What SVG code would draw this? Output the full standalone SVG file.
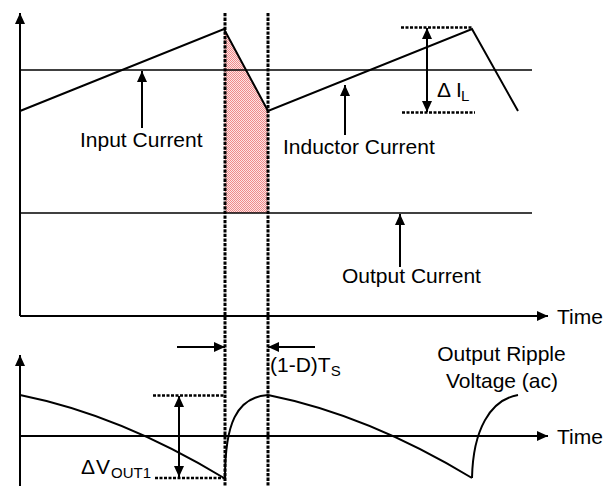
<svg xmlns="http://www.w3.org/2000/svg" width="604" height="486" viewBox="0 0 604 486">
  <style>
    .ln { fill: none; stroke: #000; stroke-width: 2; }
    .thin { fill: none; stroke: #000; stroke-width: 1.7; }
    .arr { fill: none; stroke: #000; stroke-width: 2; marker-end: url(#ah); }
    .darr { fill: none; stroke: #000; stroke-width: 2; marker-start: url(#ah); marker-end: url(#ah); }
    .vdash { fill: none; stroke: #000; stroke-width: 3; stroke-dasharray: 3.3 1.3; }
    .hdash { fill: none; stroke: #000; stroke-width: 2.5; stroke-dasharray: 3 1.5; }
    .t { font-family: "Liberation Sans", Arial, sans-serif; font-size: 21px; fill: #000; }
    .sub { font-size: 15px; }
  </style>
  <defs>
    <marker id="ah" viewBox="0 0 11 10" refX="11" refY="5" markerWidth="11" markerHeight="10" markerUnits="userSpaceOnUse" orient="auto-start-reverse">
      <path d="M0,0 L11,5 L0,10 z" fill="#000"/>
    </marker>
    <pattern id="hatch" width="2" height="2" patternUnits="userSpaceOnUse">
      <rect width="2" height="2" fill="#fde4e4"/>
      <rect width="1" height="1" fill="#ef8a8a"/>
      <rect x="1" y="1" width="1" height="1" fill="#ef8a8a"/>
    </pattern>
  </defs>
  <rect width="604" height="486" fill="#fff"/>

  <g id="shaded-region">
    <polygon points="224,29 268,111 268,213 225,213" fill="url(#hatch)"/>
  </g>

  <g id="current-plot">
    <path class="thin" d="M20,70 H532"/>
    <path class="thin" d="M20,213 H532"/>
    <polyline class="ln" points="20,111 224,29 268,111 472,29 518,111"/>
  </g>

  <g id="voltage-plot">
    <path class="ln" d="M20,395 Q120,415 224,478"/>
    <path class="ln" d="M225,478 C225,425 236,397 268,395"/>
    <path class="ln" d="M268,395 Q368,415 472,478"/>
    <path class="ln" d="M472,478 C473,430 490,400 518,395"/>
  </g>

  <g id="connectors">
    <path class="arr" d="M20,316 V13"/>
    <path class="arr" d="M20,316 H548"/>
    <path class="arr" d="M20,486 V355"/>
    <path class="arr" d="M20,436 H548"/>
    <path class="vdash" d="M225,13 V486"/>
    <path class="vdash" d="M268,13 V486"/>
    <path class="arr" d="M142,128 V71"/>
    <path class="arr" d="M345,135 V85"/>
    <path class="arr" d="M400,267 V214"/>
    <path class="hdash" d="M401,27.5 H473"/>
    <path class="hdash" d="M402,112.5 H475"/>
    <path class="darr" d="M427,28 V112"/>
    <path class="hdash" d="M153,395.5 H225"/>
    <path class="hdash" d="M155,478 H224"/>
    <path class="darr" d="M179,396 V477"/>
    <path class="arr" d="M177,347 H225"/>
    <path class="arr" d="M315,347 H268"/>
  </g>

  <g id="label-input-current">
    <text class="t" x="80" y="147">Input Current</text>
  </g>
  <g id="label-inductor-current">
    <text class="t" x="283" y="154">Inductor Current</text>
  </g>
  <g id="label-output-current">
    <text class="t" x="342" y="283">Output Current</text>
  </g>
  <g id="label-time-1">
    <text class="t" x="557" y="324">Time</text>
  </g>
  <g id="label-time-2">
    <text class="t" x="557" y="444">Time</text>
  </g>
  <g id="label-delta-il">
    <text class="t" x="437" y="97">Δ<tspan x="456">I</tspan><tspan class="sub" x="461" y="101">L</tspan></text>
  </g>
  <g id="label-delta-vout">
    <text class="t" x="81" y="474">Δ<tspan x="96">V</tspan><tspan class="sub" x="111" y="478">OUT1</tspan></text>
  </g>
  <g id="label-duty">
    <text class="t" x="270" y="372">(1-D)T<tspan class="sub" y="376">S</tspan></text>
  </g>
  <g id="label-ripple">
    <text class="t" x="501.5" y="361" text-anchor="middle">Output Ripple</text>
    <text class="t" x="502" y="388" text-anchor="middle">Voltage (ac)</text>
  </g>
</svg>
